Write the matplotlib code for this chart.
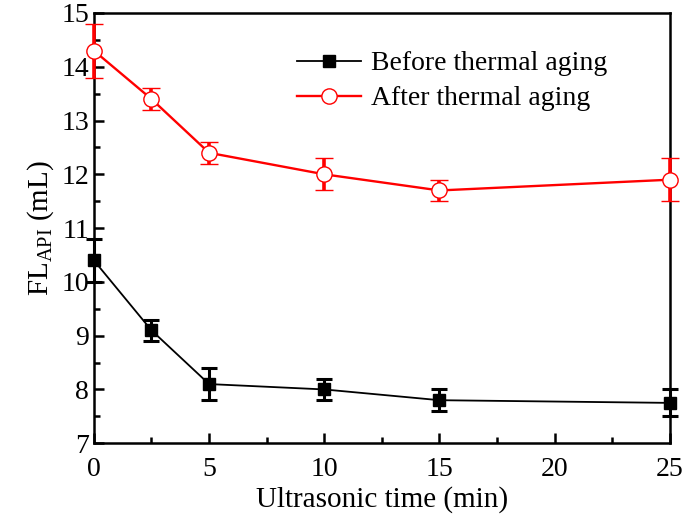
import matplotlib
matplotlib.use("Agg")
import matplotlib.pyplot as plt
from matplotlib.ticker import MultipleLocator

# data --------------------------------------------------
time_min = [0, 2.5, 5, 10, 15, 25]
before_fl = [10.4, 9.1, 8.1, 8.0, 7.8, 7.75]
before_err = [0.4, 0.2, 0.3, 0.2, 0.2, 0.25]
after_fl = [14.3, 13.4, 12.4, 12.0, 11.7, 11.9]
after_err = [0.5, 0.2, 0.2, 0.3, 0.2, 0.4]

plt.rcParams['font.family'] = ['Liberation Serif', 'DejaVu Serif']
plt.rcParams['mathtext.fontset'] = 'custom'
plt.rcParams['mathtext.rm'] = 'Liberation Serif'

fig = plt.figure(figsize=(6.85, 5.19), dpi=100)
ax = fig.add_axes([0.137, 0.146, 0.841, 0.829])

ax.errorbar(time_min, before_fl, yerr=before_err, color='black', lw=1.3,
            marker='s', ms=9, mfc='black', mec='black',
            elinewidth=2.2, capsize=6, capthick=2.2,
            label='Before thermal aging', clip_on=False, zorder=3)
ax.errorbar(time_min, after_fl, yerr=after_err, color='red', lw=1.7,
            marker='o', ms=11, mfc='white', mec='red', mew=1.0,
            elinewidth=2.6, capsize=6.5, capthick=2.6,
            label='After thermal aging', clip_on=False, zorder=3)

ax.set_xlim(0, 25)
ax.set_ylim(7, 15)
ax.xaxis.set_major_locator(MultipleLocator(5))
ax.xaxis.set_minor_locator(MultipleLocator(2.5))
ax.yaxis.set_major_locator(MultipleLocator(1))
ax.yaxis.set_minor_locator(MultipleLocator(0.5))
ax.tick_params(which='both', direction='in', top=False, right=False,
               labelsize=20, width=1.8)
ax.tick_params(which='major', length=7)
ax.tick_params(which='minor', length=4)
ax.tick_params(axis='x', pad=10)
for s in ax.spines.values():
    s.set_linewidth(1.8)

ax.set_xlabel('Ultrasonic time (min)', fontsize=21, labelpad=3)
ax.set_ylabel(r'FL$_{\mathrm{API}}$ (mL)', fontsize=21, labelpad=4)

# legend without error bars in handles
h, l = ax.get_legend_handles_labels()
h = [x[0] for x in h]
ax.legend(h, l, loc='upper left', bbox_to_anchor=(0.31, 0.97), frameon=False,
          fontsize=20, handlelength=2.3, handletextpad=0.35, labelspacing=0.35)

fig.savefig('out.png', dpi=100)
